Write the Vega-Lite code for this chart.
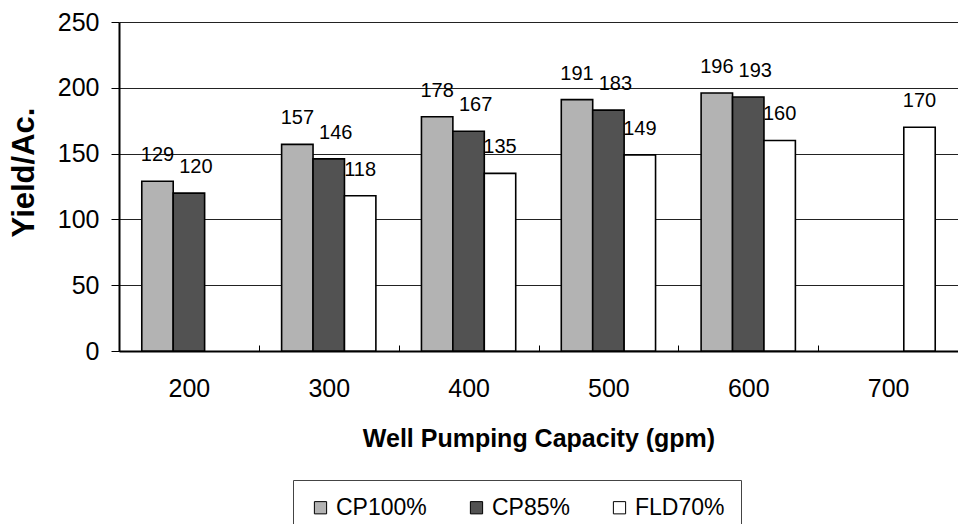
{
  "$schema": "https://vega.github.io/schema/vega-lite/v6.json",
  "width": 839,
  "height": 329,
  "autosize": "none",
  "padding": {"left": 119, "top": 22, "right": 0, "bottom": 173},
  "background": "white",
  "config": {
    "view": {"stroke": null},
    "font": "Liberation Sans",
    "text": {"font": "Liberation Sans"}
  },
  "data": {
    "values": [
      {"capacity": 200, "series": "CP100%", "yield": 129},
      {"capacity": 200, "series": "CP85%", "yield": 120},
      {"capacity": 300, "series": "CP100%", "yield": 157},
      {"capacity": 300, "series": "CP85%", "yield": 146},
      {"capacity": 300, "series": "FLD70%", "yield": 118},
      {"capacity": 400, "series": "CP100%", "yield": 178},
      {"capacity": 400, "series": "CP85%", "yield": 167},
      {"capacity": 400, "series": "FLD70%", "yield": 135},
      {"capacity": 500, "series": "CP100%", "yield": 191},
      {"capacity": 500, "series": "CP85%", "yield": 183},
      {"capacity": 500, "series": "FLD70%", "yield": 149},
      {"capacity": 600, "series": "CP100%", "yield": 196},
      {"capacity": 600, "series": "CP85%", "yield": 193},
      {"capacity": 600, "series": "FLD70%", "yield": 160},
      {"capacity": 700, "series": "FLD70%", "yield": 170}
    ]
  },
  "encoding": {
    "x": {
      "field": "capacity",
      "type": "ordinal",
      "scale": {"paddingInner": 0, "paddingOuter": 0},
      "axis": {
        "title": "Well Pumping Capacity (gpm)",
        "titleFontSize": 25,
        "titleFontWeight": "bold",
        "titleColor": "black",
        "titlePadding": 25,
        "labelFontSize": 25,
        "labelColor": "black",
        "labelAngle": 0,
        "labelPadding": 31,
        "domainColor": "black",
        "domainWidth": 2,
        "tickBand": "extent",
        "tickSize": -6,
        "tickColor": "black"
      }
    },
    "xOffset": {"field": "series", "type": "nominal", "sort": ["CP100%", "CP85%", "FLD70%"], "scale": {"paddingInner": 0, "paddingOuter": 0.725}},
    "y": {
      "field": "yield",
      "type": "quantitative",
      "scale": {"domain": [0, 250], "nice": false},
      "axis": {
        "title": "Yield/Ac.",
        "titleFontSize": 31,
        "titleFontWeight": "bold",
        "titleColor": "black",
        "titleX": -86,
        "titleY": 150,
        "titleBaseline": "alphabetic",
        "values": [0, 50, 100, 150, 200, 250],
        "labelFontSize": 25,
        "labelColor": "black",
        "labelPadding": 12,
        "tickSize": 8,
        "tickColor": "black",
        "domainColor": "black",
        "domainWidth": 2,
        "grid": true,
        "gridColor": "#222222",
        "gridWidth": 1.2
      }
    }
  },
  "layer": [
    {
      "mark": {"type": "bar", "stroke": "black", "strokeWidth": 1.6},
      "encoding": {
        "color": {
          "field": "series",
          "type": "nominal",
          "scale": {"domain": ["CP100%", "CP85%", "FLD70%"], "range": ["#b3b3b3", "#525252", "#ffffff"]},
          "legend": {
            "title": null,
            "orient": "none",
            "direction": "horizontal",
            "legendX": 174,
            "legendY": 458,
            "labelFontSize": 23,
            "labelColor": "black",
            "labelOffset": 4,
            "symbolType": "square",
            "symbolSize": 150,
            "symbolStrokeColor": "black",
            "symbolStrokeWidth": 1,
            "columnPadding": 38,
            "strokeColor": "#444444",
            "padding": 16,
            "fillColor": "white"
          }
        }
      }
    },
    {
      "transform": [{"filter": "datum.series !== 'CP85%'"}],
      "mark": {"type": "text", "baseline": "middle", "align": "center", "dy": -26, "fontSize": 20, "color": "black"},
      "encoding": {"text": {"field": "yield", "type": "quantitative"}}
    },
    {
      "transform": [{"filter": "datum.series === 'CP85%'"}],
      "mark": {"type": "text", "baseline": "middle", "align": "center", "dy": -26, "dx": 7, "fontSize": 20, "color": "black"},
      "encoding": {"text": {"field": "yield", "type": "quantitative"}}
    }
  ]
}
